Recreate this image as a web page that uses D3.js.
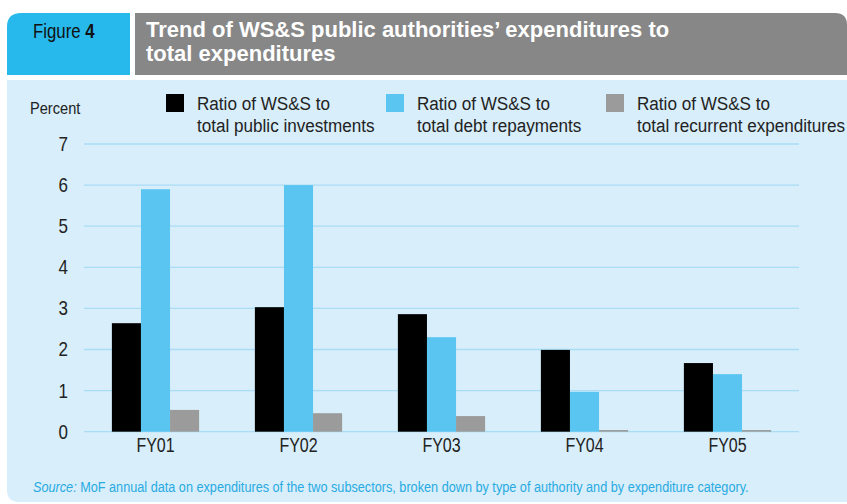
<!DOCTYPE html>
<html>
<head>
<meta charset="utf-8">
<script src="https://cdn.jsdelivr.net/npm/d3@7"></script>
<style>
  html, body { margin: 0; padding: 0; background: #ffffff; }
  svg { display: block; }
</style>
</head>
<body>
<svg id="chart" width="847" height="504"></svg>
<script>
const categories = ["FY01", "FY02", "FY03", "FY04", "FY05"];
const seriesNames = [
  ["Ratio of WS&S to", "total public investments"],
  ["Ratio of WS&S to", "total debt repayments"],
  ["Ratio of WS&S to", "total recurrent expenditures"]
];
const publicInvestments = [2.64, 3.03, 2.86, 1.99, 1.67];
const debtRepayments = [5.9, 6.0, 2.30, 0.97, 1.40];
const recurrentExpenditures = [0.53, 0.45, 0.38, 0.04, 0.04];
const yTicks = [0, 1, 2, 3, 4, 5, 6, 7];
const seriesColors = ["#000000", "#5bc5f1", "#9b9b9b"];

const series = [publicInvestments, debtRepayments, recurrentExpenditures];
const svg = d3.select("#chart");
const font = '"Liberation Sans", Arial, sans-serif';

function ntext(parent, x, y, size, sx) {
  return parent.append("text")
    .attr("transform", `translate(${x},${y}) scale(${sx},1)`)
    .attr("font-family", font).attr("font-size", size);
}

// Panel background
svg.append("path")
  .attr("d", "M7,80 H847 V502 H19 Q7,502 7,490 Z")
  .attr("fill", "#d8eefa");

// Header tab
svg.append("path")
  .attr("d", "M7,75 V27 Q7,13 21,13 H130 V75 Z")
  .attr("fill", "#27b9ec");
svg.append("path")
  .attr("d", "M135,13 H835 Q847,13 847,25 V75 H135 Z")
  .attr("fill", "#878787");

const figT = ntext(svg, 33, 38, 20, 0.84).attr("fill", "#111");
figT.append("tspan").text("Figure ");
figT.append("tspan").attr("font-weight", "bold").text("4");

const titleLines = ["Trend of WS&S public authorities\u2019 expenditures to", "total expenditures"];
titleLines.forEach((t, i) => {
  svg.append("text")
    .attr("x", 146).attr("y", 37 + i * 24)
    .attr("font-family", font)
    .attr("font-weight", "bold").attr("font-size", 22)
    .attr("fill", "#ffffff")
    .text(t);
});

// Scales
const margin = { left: 84, right: 799, top: 144, bottom: 431.7 };
const x = d3.scaleBand().domain(categories).range([margin.left, margin.right]).paddingInner(0.39).paddingOuter(0.195);
const y = d3.scaleLinear().domain([0, 7]).range([margin.bottom, margin.top]);
const x1 = d3.scaleBand().domain(d3.range(series.length)).range([0, x.bandwidth()]).padding(0);

// Gridlines
svg.append("g")
  .selectAll("line").data(yTicks).join("line")
  .attr("x1", margin.left).attr("x2", margin.right)
  .attr("y1", d => y(d)).attr("y2", d => y(d))
  .attr("stroke", "#a9dcf5").attr("stroke-width", 1.3);

// Y axis labels
const yAxis = d3.axisLeft(y).tickValues(yTicks).tickSize(0).tickPadding(0).tickFormat(d3.format("d"));
const gy = svg.append("g").attr("transform", "translate(68,0)").call(yAxis);
gy.select(".domain").remove();
gy.selectAll("text").attr("font-family", font).attr("font-size", 20).attr("fill", "#222")
  .attr("transform", "scale(0.85,1)");

ntext(svg, 30, 114, 17, 0.86).attr("fill", "#222").text("Percent");

// Bars
const groups = svg.append("g").selectAll("g").data(categories).join("g")
  .attr("transform", d => `translate(${x(d)},0)`);
groups.selectAll("rect")
  .data((d, i) => series.map((s, k) => ({ k, v: s[i] })))
  .join("rect")
  .attr("x", d => x1(d.k))
  .attr("width", x1.bandwidth())
  .attr("y", d => y(d.v))
  .attr("height", d => y(0) - y(d.v))
  .attr("fill", d => seriesColors[d.k]);

// X axis labels
const xAxis = d3.axisBottom(x).tickSize(0).tickPadding(6);
const gx = svg.append("g").attr("transform", `translate(0,${margin.bottom})`).call(xAxis);
gx.select(".domain").remove();
gx.selectAll("text").attr("font-family", font).attr("font-size", 20).attr("fill", "#222")
  .attr("transform", "scale(0.8,1)");

// Legend
const legendX = [166, 386, 606];
seriesNames.forEach((lines, k) => {
  const g = svg.append("g").attr("transform", `translate(${legendX[k]},0)`);
  g.append("rect").attr("x", 0).attr("y", 94).attr("width", 18).attr("height", 18).attr("fill", seriesColors[k]);
  lines.forEach((t, j) => {
    ntext(g, 31, 110 + j * 22, 19, 0.9).attr("fill", "#222").text(t);
  });
});

// Source
const src = ntext(svg, 33, 492, 14.5, 0.875).attr("fill", "#29abe2");
src.append("tspan").attr("font-style", "italic").text("Source:");
src.append("tspan").text(" MoF annual data on expenditures of the two subsectors, broken down by type of authority and by expenditure category.");
</script>
</body>
</html>
